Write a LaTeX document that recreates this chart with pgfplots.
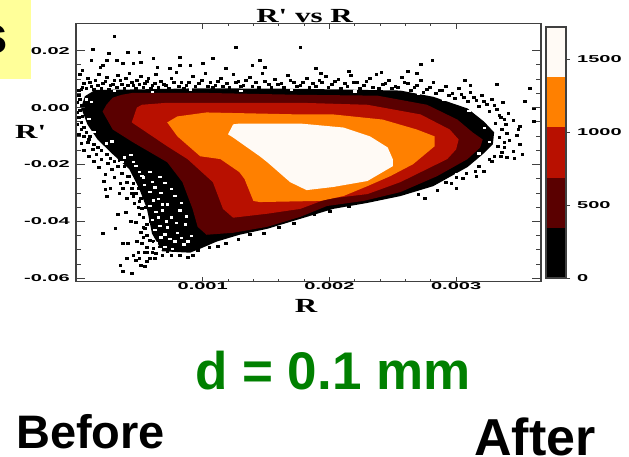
\documentclass[border=0pt]{standalone}
\usepackage{pgfplots}
\pgfplotsset{compat=1.18}
\usepackage{fontspec}
\setmainfont{Liberation Sans}
\newfontfamily\ser{Liberation Serif}
\definecolor{cw}{HTML}{FFFAF5}
\definecolor{co}{HTML}{FF8000}
\definecolor{cr}{HTML}{B81000}
\definecolor{cm}{HTML}{5A0000}
\definecolor{frm}{HTML}{404040}
\newcommand\tk[1]{\scalebox{2}[1]{\fontsize{10}{10}\selectfont\bfseries #1}}
\newcommand\ttl[1]{\scalebox{1.55}[1]{\ser\bfseries\fontsize{20}{20}\selectfont #1}}
\begin{document}
\begin{tikzpicture}[x=1pt,y=1pt]
\useasboundingbox (0,0) rectangle (629,456);
\fill[fill={rgb,255:red,255;green,255;blue,153}] (0,377) rectangle (31,456);
\node[anchor=base east,inner sep=0pt,font=\fontsize{53}{53}\selectfont\bfseries] at (8,402) {s};
% main axis: data and x ticks
\begin{axis}[name=main,at={(76pt,174.3pt)},anchor=south west,scale only axis,width=465pt,height=258pt,
 xmin=0,xmax=0.00367,ymin=-0.0612,ymax=0.0295,axis on top,axis line style={frm,line width=1.3pt},
 xtick={0.001,0.002,0.003},xticklabels={\tk{0.001},\tk{0.002},\tk{0.003}},scaled x ticks=false,
 minor x tick num=4,ytick=\empty,major tick length=5pt,minor tick length=2.5pt,
 tick style={frm,line width=0.9pt},xticklabel style={inner sep=0pt,yshift=-1pt},clip=true]
% dense scatter mass
\addplot[fill=black,draw=none] coordinates {(.00004,0)(.00007,.0040)(.00015,.0062)(.00048,.0064)(.00098,.0068)(.00177,.0066)(.00256,.0060)(.00282,.0038)(.00309,-.0003)(.00322,-.0049)(.00330,-.0087)(.00329,-.0129)(.00321,-.0164)(.00309,-.0209)(.00282,-.0276)(.00256,-.0311)(.00230,-.0335)(.00203,-.0356)(.00177,-.0391)(.00151,-.0426)(.00129,-.0447)(.00111,-.0471)(.00098,-.0496)(.00090,-.0510)(.00068,-.0505)(.00060,-.0443)(.00056,-.0356)(.00050,-.0286)(.00042,-.0216)(.00029,-.0164)(.00017,-.0112)(.00009,-.0059)} --cycle;
% scattered points
\addplot[only marks,mark=square*,mark size=1pt,mark options={black,draw=none,xscale=1.3}] coordinates {
(.00030,.0251)(.00013,.0206)(.00026,.0192)(.00041,.0195)(.00050,.0195)(.00126,.0213)(.00177,.0213)(.00012,.0168)(.00024,.0168)(.00032,.0168)(.00061,.0175)(.00082,.0178)(.00108,.0175)(.00100,.0157)(.00145,.0168)(.00045,.0157)(.00037,.0157)(.00051,.0161)(.00021,.0150)(.00082,.0150)(.00139,.0150)(.00005,.0133)(.00019,.0143)(.00064,.0143)(.00074,.0140)(.00090,.0150)(.00118,.0140)(.00149,.0143)(.00189,.0140)(.00193,.0122)(.00215,.0129)(.00241,.0126)(.00262,.0129)(.00269,.0122)(.00272,.0154)(.00281,.0168)(.00307,.0098)(.00311,.0080)(.00332,.0084)(.00358,.0070)(.00354,.0024)(.00361,-.0003)(.00361,-.0049)(.00350,-.0066)(.00349,-.0077)
(.00003,.0118)(.00006,.0085)(.00009,.0105)(.00012,.0075)(.00015,.0098)(.00018,.0118)(.00021,.0085)(.00024,.0108)(.00027,.0078)(.00030,.0095)(.00033,.0115)(.00036,.0082)(.00039,.0102)(.00042,.0120)(.00045,.0078)(.00048,.0098)(.00051,.0112)(.00054,.0085)(.00057,.0105)(.00060,.0080)(.00063,.0118)(.00067,.0092)(.00071,.0078)(.00075,.0105)(.00079,.0125)(.00083,.0088)(.00087,.0078)(.00092,.0110)(.00097,.0085)(.00102,.0120)(.00106,.0090)(.00110,.0080)(.00114,.0105)(.00119,.0085)(.00124,.0118)(.00128,.0092)(.00132,.0080)(.00137,.0108)(.00142,.0088)(.00147,.0120)(.00152,.0082)(.00157,.0100)(.00162,.0085)(.00167,.0115)(.00172,.0090)(.00177,.0080)(.00182,.0105)(.00187,.0085)(.00192,.0095)(.00197,.0112)(.00202,.0082)(.00207,.0100)(.00212,.0085)(.00217,.0115)(.00222,.0090)(.00227,.0078)(.00232,.0105)(.00237,.0118)(.00242,.0082)(.00247,.0095)(.00252,.0076)(.00257,.0108)(.00262,.0085)(.00267,.0072)(.00272,.0098)(.00277,.0065)(.00282,.0088)(.00287,.0060)(.00292,.0075)(.00297,.0050)(.00302,.0068)(.00306,.0038)(.00311,.0055)(.00316,.0025)(.00320,.0042)(.00324,.0012)(.00328,.0030)(.00332,-.0005)(.00337,.0018)(.00341,-.0020)(.00335,-.0035)(.00339,-.0060)(.00345,-.0045)(.00348,-.0098)(.00342,-.0115)(.00338,-.0140)(.00345,-.0152)(.00350,-.0128)(.00335,-.0170)(.00328,-.0190)(.00340,-.0175)(.00352,-.0165)(.00346,-.0178)(.00322,-.0222)(.00316,-.0240)(.00305,-.0248)(.00296,-.0265)(.00300,-.0285)(.00285,-.0290)(.00270,-.0305)(.00275,-.0320)
(.00002,.0060)(.00002,.0042)(.00001,.0020)(.00004,.0065)(.00001,-.0015)(.00002,-.0035)(.00001,-.0060)(.00004,-.0075)(.00002,-.0095)(.00006,-.0100)(.00009,-.0120)(.00004,-.0125)(.00013,-.0145)(.00006,-.0150)(.00016,-.0165)(.00010,-.0170)(.00020,-.0180)(.00014,-.0190)(.00025,-.0195)(.00018,-.0210)(.00028,-.0215)(.00033,-.0205)(.00023,-.0235)(.00036,-.0230)(.00030,-.0245)(.00041,-.0240)(.00027,-.0285)(.00023,-.0286)(.00024,-.0311)(.00022,-.0260)(.00034,-.0300)(.00035,-.0265)(.00037,-.0285)(.00044,-.0300)(.00049,-.0285)(.00040,-.0320)(.00046,-.0335)(.00051,-.0320)(.00054,-.0305)(.00033,-.0373)(.00039,-.0366)(.00031,-.0425)(.00021,-.0443)(.00037,-.0478)(.00041,-.0478)(.00043,-.0398)(.00047,-.0402)(.00053,-.0420)(.00051,-.0437)(.00056,-.0450)(.00052,-.0478)(.00056,-.0490)(.00040,-.0530)(.00045,-.0520)(.00049,-.0510)(.00054,-.0510)(.00058,-.0530)(.00051,-.0555)(.00054,-.0558)(.00062,-.0530)(.00068,-.0520)(.00075,-.0520)(.00082,-.0520)(.00088,-.0525)(.00092,-.0518)(.00096,-.0500)(.00035,-.0555)(.00044,-.0583)(.00037,-.0575)(.00048,-.0470)(.00059,-.0400)(.00061,-.0470)(.00066,-.0490)(.00063,-.0440)(.00058,-.0370)(.00055,-.0350)(.00060,-.0510)(.00072,-.0505)(.00105,-.0490)(.00112,-.0487)(.00118,-.0475)(.00128,-.0463)(.00137,-.0445)(.00148,-.0440)(.00160,-.0420)(.00172,-.0405)(.00188,-.0375)(.00200,-.0365)(.00215,-.0345)
(.00005,.0072)(.00008,.0068)(.00011,.0090)(.00014,.0066)(.00017,.0078)(.00020,.0070)(.00023,.0092)(.00026,.0066)(.00029,.0084)(.00032,.0072)(.00035,.0095)(.00038,.0068)(.00041,.0080)(.00044,.0090)(.00047,.0070)(.00050,.0082)(.00053,.0072)(.00056,.0092)(.00059,.0068)(.00062,.0085)(.00065,.0072)(.00069,.0082)(.00073,.0070)(.00077,.0090)(.00081,.0074)(.00085,.0070)(.00089,.0088)(.00094,.0074)(.00099,.0095)(.00104,.0076)(.00108,.0072)(.00112,.0092)(.00116,.0075)(.00121,.0072)(.00126,.0090)(.00130,.0074)(.00134,.0095)(.00139,.0074)(.00144,.0072)(.00149,.0092)(.00154,.0072)(.00159,.0084)(.00164,.0072)(.00169,.0095)(.00174,.0074)(.00179,.0090)(.00184,.0072)(.00189,.0076)(.00194,.0088)(.00199,.0072)(.00204,.0092)(.00209,.0070)(.00214,.0074)(.00219,.0090)(.00224,.0070)(.00229,.0092)(.00234,.0072)(.00239,.0070)(.00244,.0085)(.00249,.0068)(.00254,.0072)(.00259,.0088)(.00264,.0062)(.00269,.0080)(.00274,.0055)(.00279,.0072)(.00284,.0050)(.00289,.0062)(.00294,.0042)(.00299,.0032)(.00304,.0048)(.00309,.0022)(.00314,.0035)(.00318,.0005)(.00322,.0022)(.00326,-.0012)(.00330,.0008)(.00334,-.0025)(.00338,-.0040)(.00331,-.0055)(.00336,-.0075)(.00340,-.0090)(.00334,-.0105)(.00338,-.0120)(.00333,-.0135)(.00336,-.0155)(.00330,-.0172)(.00326,-.0180)(.00318,-.0205)(.00315,-.0222)(.00308,-.0232)(.00300,-.0245)(.00292,-.0262)
(.00003,.0030)(.00004,.0010)(.00003,-.0010)(.00005,-.0030)(.00004,-.0050)(.00006,-.0068)(.00008,-.0085)(.00011,-.0100)(.00010,-.0112)(.00014,-.0128)(.00017,-.0140)(.00020,-.0150)(.00024,-.0165)(.00027,-.0178)(.00030,-.0190)(.00034,-.0185)(.00038,-.0205)(.00042,-.0240)(.00045,-.0265)(.00040,-.0262)(.00047,-.0300)(.00044,-.0285)(.00045,-.0310)(.00050,-.0330)(.00049,-.0350)(.00052,-.0352)(.00050,-.0375)(.00053,-.0385)(.00056,-.0410)(.00054,-.0425)(.00058,-.0465)(.00053,-.0455)(.00061,-.0495)(.00056,-.0510)(.00063,-.0512)(.00047,-.0535)(.00050,-.0530)(.00056,-.0540)
};
% gaps in the dense mass
\addplot[only marks,mark=square*,mark size=0.7pt,mark options={white,draw=none,xscale=1.8}] coordinates {
(.00062,-.0280)(.00067,-.0300)(.00072,-.0340)(.00078,-.0310)(.00068,-.0360)(.00075,-.0385)(.00082,-.0360)(.00072,-.0420)(.00080,-.0440)(.00086,-.0410)(.00078,-.0470)(.00085,-.0480)(.00091,-.0450)(.00065,-.0320)(.00060,-.0260)(.00052,-.0240)(.00045,-.0190)(.00038,-.0175)(.00024,-.0125)(.00014,-.0085)(.00010,-.0040)(.00012,.0020)(.00008,.0030)(.00030,.0060)(.00060,.0055)(.00090,.0065)(.00130,.0060)(.00170,.0062)(.00220,.0058)(.00270,.0048)(.00290,.0030)(.00310,-.0010)(.00322,-.0070)(.00326,-.0120)(.00318,-.0160)(.00300,-.0232)(.00065,-.0385)(.00070,-.0265)(.00075,-.0285)(.00083,-.0335)(.00079,-.0405)(.00087,-.0382)(.00070,-.0445)(.00074,-.0460)(.00083,-.0458)(.00088,-.0470)(.00058,-.0225)(.00066,-.0242)(.00043,-.0165)(.00028,-.0118)
(.00054,-.0270)(.00058,-.0295)(.00053,-.0245)(.00061,-.0325)(.00058,-.0345)(.00063,-.0365)(.00060,-.0395)(.00066,-.0415)(.00062,-.0430)(.00067,-.0455)(.00063,-.0475)(.00070,-.0490)(.00066,-.0495)(.00076,-.0495)(.00068,-.0340)(.00071,-.0400)(.00050,-.0225)(.00047,-.0205)(.00036,-.0190)
};
% contour bands
\addplot[fill=cm,draw=none] coordinates {(.00021,-.0014)(.00024,.0010)(.00029,.0035)(.00036,.0045)(.00045,.0052)(.00098,.0052)(.00177,.0045)(.00238,.0042)(.00277,.0010)(.00301,-.0042)(.00313,-.0087)(.00321,-.0112)(.00319,-.0140)(.00309,-.0181)(.00285,-.0241)(.00256,-.0297)(.00227,-.0328)(.00198,-.0346)(.00177,-.0384)(.00151,-.0419)(.00124,-.0440)(.00103,-.0447)(.00096,-.0419)(.00092,-.0356)(.00084,-.0262)(.00072,-.0192)(.00045,-.0122)(.00029,-.0077)} --cycle;
\addplot[fill=cr,draw=none] coordinates {(.00044,-.0052)(.00048,0)(.00052,.0010)(.00072,.0017)(.00177,.0017)(.00230,.0010)(.00272,-.0024)(.00295,-.0077)(.00302,-.0112)(.00300,-.0147)(.00293,-.0181)(.00277,-.0216)(.00256,-.0262)(.00230,-.0304)(.00198,-.0321)(.00177,-.0356)(.00151,-.0373)(.00124,-.0387)(.00116,-.0356)(.00108,-.0262)(.00088,-.0181)(.00072,-.0136)} --cycle;
\addplot[fill=co,draw=none] coordinates {(.00072,-.0052)(.00080,-.0031)(.00103,-.0017)(.00177,-.0024)(.00203,-.0024)(.00242,-.0042)(.00269,-.0077)(.00283,-.0101)(.00283,-.0136)(.00266,-.0199)(.00248,-.0241)(.00230,-.0276)(.00211,-.0311)(.00193,-.0328)(.00145,-.0332)(.00140,-.0328)(.00133,-.0251)(.00129,-.0227)(.00114,-.0181)(.00098,-.0171)(.00080,-.0101)} --cycle;
\addplot[fill=cw,draw=none] coordinates {(.00120,-.0094)(.00124,-.0059)(.00129,-.0056)(.00177,-.0056)(.00211,-.0070)(.00232,-.0101)(.00246,-.0140)(.00250,-.0181)(.00250,-.0206)(.00230,-.0258)(.00203,-.0279)(.00182,-.0290)(.00169,-.0262)(.00151,-.0192)(.00145,-.0171)(.00124,-.0105)} --cycle;
\end{axis}
% y ticks (longer than the x ticks)
\begin{axis}[at={(76pt,174.3pt)},anchor=south west,scale only axis,width=465pt,height=258pt,
 xmin=0,xmax=0.00367,ymin=-0.0612,ymax=0.0295,axis line style={frm,line width=1.3pt},
 xtick=\empty,ytick={-0.06,-0.04,-0.02,0,0.02},
 yticklabels={\tk{-0.06},\tk{-0.04},\tk{-0.02},\tk{0.00},\tk{0.02}},scaled y ticks=false,
 minor y tick num=3,major tick length=9pt,minor tick length=5pt,
 tick style={frm,line width=0.9pt},yticklabel style={inner sep=0pt,xshift=-6pt}]
\end{axis}
% colour bar
\begin{axis}[at={(546pt,178pt)},anchor=south west,scale only axis,width=20pt,height=251pt,
 xmin=0,xmax=1,ymin=0,ymax=1720,axis on top,axis line style={frm,line width=1.3pt},
 xtick=\empty,ytick={0,500,1000,1500},yticklabels={\tk{0},\tk{500},\tk{1000},\tk{1500}},
 yticklabel pos=right,ytick pos=right,tick align=outside,major tick length=4pt,
 tick style={frm,line width=0.9pt},yticklabel style={inner sep=0pt,xshift=7pt,anchor=west}]
\addplot[fill=black,draw=none] coordinates {(0,0)(1,0)(1,344)(0,344)} --cycle;
\addplot[fill=cm,draw=none] coordinates {(0,344)(1,344)(1,688)(0,688)} --cycle;
\addplot[fill=cr,draw=none] coordinates {(0,688)(1,688)(1,1032)(0,1032)} --cycle;
\addplot[fill=co,draw=none] coordinates {(0,1032)(1,1032)(1,1376)(0,1376)} --cycle;
\addplot[fill=cw,draw=none] coordinates {(0,1376)(1,1376)(1,1720)(0,1720)} --cycle;
\end{axis}
\node[anchor=base,inner sep=0pt] at (304.5,433) {\ttl{R' vs R}};
\node[anchor=base,inner sep=0pt] at (306,144) {\ttl{R}};
\node[anchor=base west,inner sep=0pt] at (15,317) {\ttl{R'}};
\node[anchor=base west,inner sep=0pt,text=green!50!black,font=\fontsize{53}{53}\selectfont\bfseries] at (195,67) {d = 0.1 mm};
\node[anchor=base west,inner sep=0pt,font=\fontsize{47}{47}\selectfont\bfseries] at (16,8) {Before};
\node[anchor=base west,inner sep=0pt,font=\fontsize{52}{52}\selectfont\bfseries] at (474,1) {After};
\end{tikzpicture}
\end{document}
